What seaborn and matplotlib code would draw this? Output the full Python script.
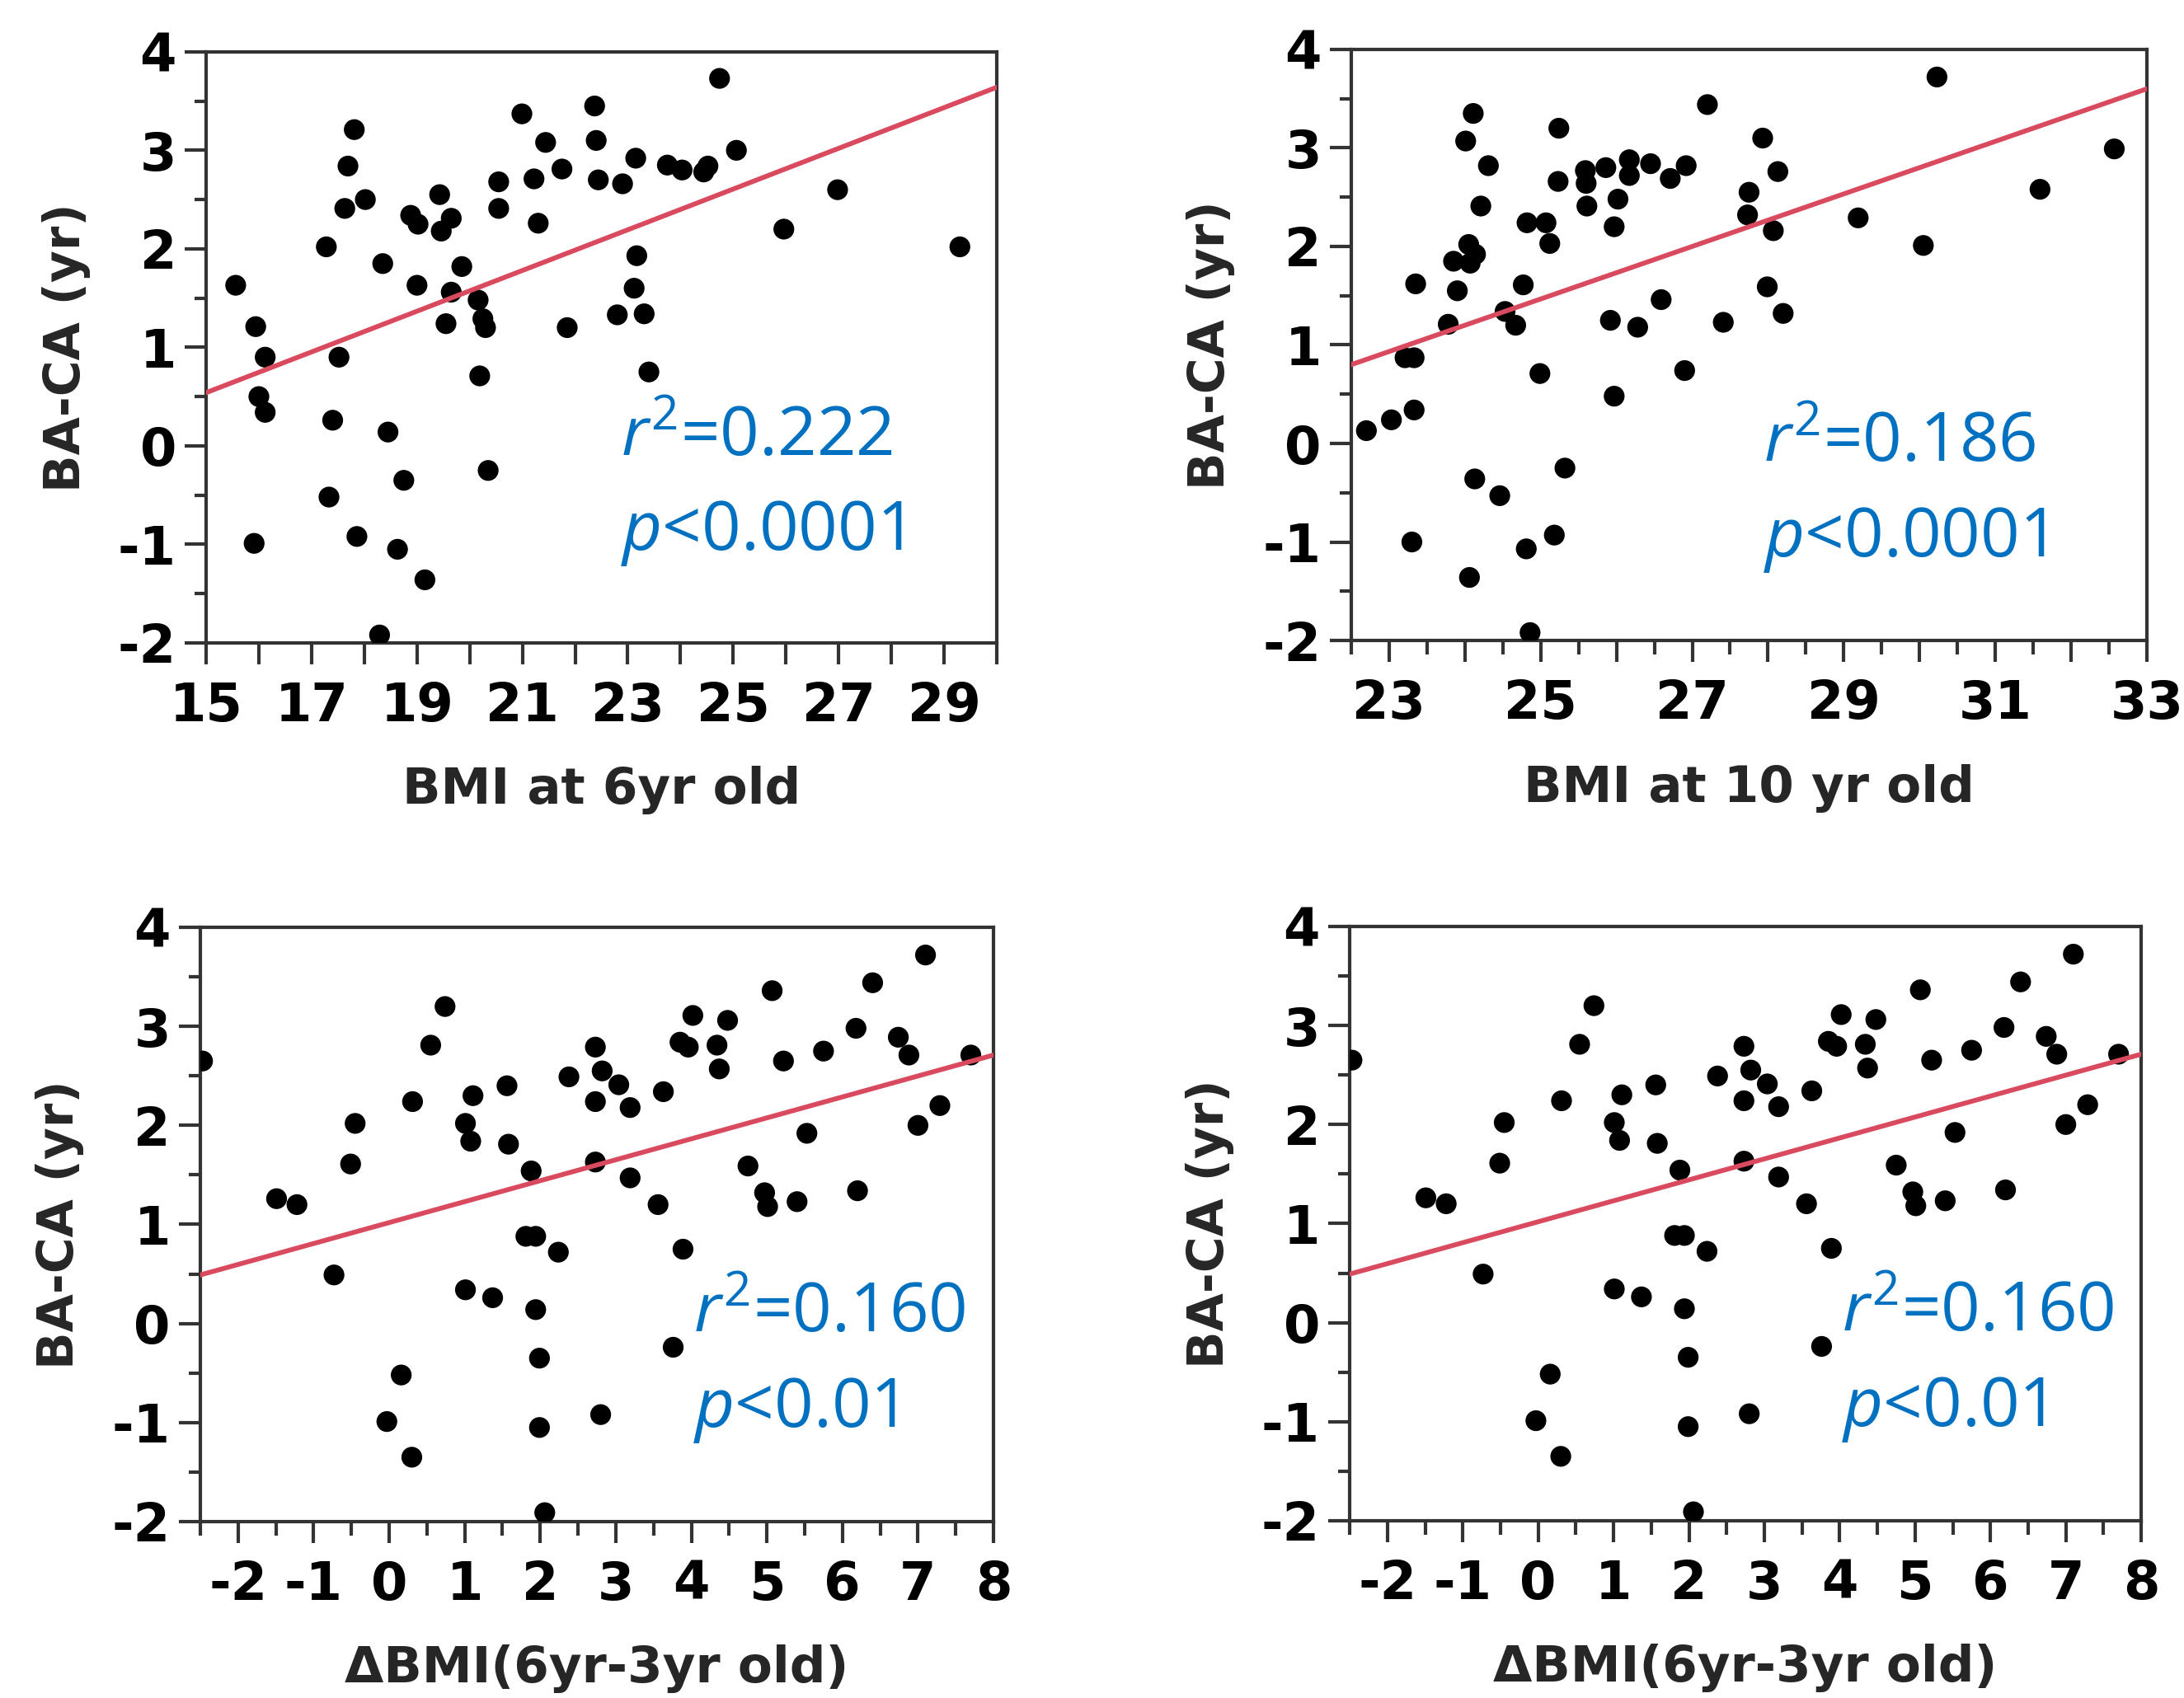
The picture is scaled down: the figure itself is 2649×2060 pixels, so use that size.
import matplotlib
matplotlib.use("Agg")
import matplotlib.pyplot as plt
import seaborn as sns
import pandas as pd

# ---------------- data ----------------
# Panel 1: BMI at 6 yr old vs BA-CA
bmi6_x = [15.56, 15.94, 16.12, 16.00, 16.12, 15.91, 17.28, 17.52, 17.40, 17.33,
          17.69, 17.81, 17.63, 18.02, 17.86, 18.35, 18.45, 18.29, 18.75, 18.63,
          19.15, 18.88, 19.02, 19.00, 19.43, 19.46, 19.65, 19.85, 19.65, 19.55,
          20.16, 20.25, 20.30, 20.19, 20.35, 20.55, 20.55, 20.99, 21.22, 21.44,
          21.30, 21.75, 21.85, 22.37, 22.40, 22.44, 22.90, 22.80, 23.15, 23.17,
          23.12, 23.31, 23.40, 23.75, 24.03, 24.44, 24.52, 24.74, 25.06, 25.96,
          26.98, 29.30]
bmi6_y = [1.63, 1.21, 0.90, 0.50, 0.34, -0.99, 2.02, 0.90, 0.26, -0.52,
          2.84, 3.21, 2.41, 2.50, -0.92, 1.85, 0.14, -1.92, -0.35, -1.05,
          -1.36, 2.34, 2.25, 1.63, 2.55, 2.18, 2.31, 1.82, 1.56, 1.24,
          1.48, 1.29, 1.20, 0.71, -0.25, 2.68, 2.41, 3.37, 2.71, 3.08,
          2.26, 2.81, 1.20, 3.45, 3.10, 2.70, 2.66, 1.33, 2.92, 1.93,
          1.60, 1.34, 0.75, 2.85, 2.80, 2.78, 2.84, 3.73, 3.00, 2.20,
          2.60, 2.02]
bmi6_fit_x = [15.0, 30.0]
bmi6_fit_y = [0.54, 3.64]

# Panel 2: BMI at 10 yr old vs BA-CA
bmi10_x = [22.70, 23.03, 23.33, 23.21, 23.33, 23.35, 23.30, 23.78, 23.85, 23.90,
           24.01, 24.11, 24.31, 24.21, 24.05, 24.07, 24.14, 24.13, 24.46, 24.06,
           24.53, 24.67, 24.77, 24.82, 25.07, 25.12, 24.99, 24.81, 24.86, 25.18,
           25.32, 25.24, 25.23, 25.59, 25.60, 25.61, 25.86, 26.02, 25.97, 25.92,
           25.97, 26.17, 26.17, 26.45, 26.71, 26.92, 26.28, 26.59, 26.90, 27.20,
           27.41, 27.93, 27.75, 27.73, 28.13, 28.07, 27.99, 28.20, 29.19, 30.05,
           30.23, 31.59, 32.57]
bmi10_y = [0.13, 0.24, 0.34, 0.87, 0.87, 1.62, -1.00, 1.21, 1.85, 1.55,
           3.07, 3.35, 2.82, 2.41, 2.02, 1.83, 1.92, -0.36, -0.53, -1.36,
           1.34, 1.20, 1.61, 2.24, 2.24, 2.03, 0.71, -1.07, -1.92, -0.93,
           -0.25, 3.20, 2.66, 2.77, 2.64, 2.41, 2.80, 2.48, 2.20, 1.25,
           0.48, 2.88, 2.72, 2.84, 2.69, 2.82, 1.18, 1.46, 0.74, 3.44,
           1.23, 3.10, 2.55, 2.32, 2.76, 2.16, 1.59, 1.32, 2.29, 2.01,
           3.72, 2.58, 2.99]
bmi10_fit_x = [22.5, 33.0]
bmi10_fit_y = [0.80, 3.60]

# Panels 3 and 4: delta BMI (6yr-3yr old) vs BA-CA
dbmi_x = [-2.47, -1.49, -1.22, -0.73, -0.51, -0.45, -0.03, 0.16, 0.30, 0.31,
          0.55, 0.74, 1.01, 1.01, 1.08, 1.11, 1.37, 1.56, 1.58, 1.88,
          1.81, 1.94, 1.94, 1.99, 1.99, 2.06, 2.24, 2.38, 2.73, 2.73,
          2.73, 2.82, 3.04, 3.19, 3.19, 2.80, 3.56, 3.63, 3.76, 3.89,
          3.85, 3.96, 4.02, 4.34, 4.37, 4.48, 4.75, 4.97, 5.01, 5.07,
          5.22, 5.40, 5.53, 5.75, 6.18, 6.20, 6.40, 6.74, 6.88, 7.00,
          7.10, 7.29, 7.70]
dbmi_y = [2.65, 1.26, 1.20, 0.49, 1.61, 2.02, -0.99, -0.52, -1.35, 2.24,
          2.81, 3.20, 0.34, 2.02, 1.84, 2.30, 0.26, 2.40, 1.81, 1.54,
          0.88, 0.88, 0.14, -0.35, -1.05, -1.91, 0.72, 2.49, 2.79, 2.24,
          1.63, 2.55, 2.41, 2.18, 1.47, -0.92, 1.20, 2.34, -0.24, 0.75,
          2.84, 2.79, 3.11, 2.81, 2.57, 3.06, 1.59, 1.32, 1.18, 3.36,
          2.65, 1.23, 1.92, 2.75, 2.98, 1.34, 3.44, 2.89, 2.71, 2.00,
          3.72, 2.20, 2.71]
dbmi_fit_x = [-2.5, 8.0]
dbmi_fit_y = [0.49, 2.71]

y_ticks = [-2, -1, 0, 1, 2, 3, 4]
y_ticklabels = ["-2", "-1", "0", "1", "2", "3", "4"]
y_minor = [-1.5, -0.5, 0.5, 1.5, 2.5, 3.5]

x1_ticks = list(range(15, 31))
x1_ticklabels = ["15", "", "17", "", "19", "", "21", "", "23", "", "25", "", "27", "", "29", ""]
x2_ticks = list(range(23, 34))
x2_ticklabels = ["23", "", "25", "", "27", "", "29", "", "31", "", "33"]
x2_minor = [22.5, 23.5, 24.5, 25.5, 26.5, 27.5, 28.5, 29.5, 30.5, 31.5, 32.5]
x3_ticks = list(range(-2, 9))
x3_ticklabels = ["-2", "-1", "0", "1", "2", "3", "4", "5", "6", "7", "8"]
x3_minor = [-2.5, -1.5, -0.5, 0.5, 1.5, 2.5, 3.5, 4.5, 5.5, 6.5, 7.5]

y_label = "BA-CA (yr)"
x_labels = ["BMI at 6yr old", "BMI at 10 yr old", "\u0394BMI(6yr-3yr old)", "\u0394BMI(6yr-3yr old)"]
r2_texts = ["0.222", "0.186", "0.160", "0.160"]
p_texts = ["0.0001", "0.0001", "0.01", "0.01"]

# ---------------- style ----------------
sns.set_style("white")
plt.rcParams["font.family"] = ["DejaVu Sans"]
plt.rcParams["axes.unicode_minus"] = False
plt.rcParams["mathtext.fontset"] = "custom"
plt.rcParams["mathtext.rm"] = "Open Sans"
plt.rcParams["mathtext.it"] = "Open Sans:italic"

SPINE = "#333333"
RED = "#d94a5e"
BLUE = "#0070C0"

fig = plt.figure(figsize=(26.49, 20.60), dpi=100)

panels = [
    dict(rect=[0.0944, 0.6214, 0.3620, 0.3481], x=bmi6_x, y=bmi6_y, fx=bmi6_fit_x, fy=bmi6_fit_y,
         xlim=(15, 30), xt=x1_ticks, xtl=x1_ticklabels, xm=[], txt=(0.5245, 0.3166, 0.1576)),
    dict(rect=[0.6187, 0.6228, 0.3643, 0.3481], x=bmi10_x, y=bmi10_y, fx=bmi10_fit_x, fy=bmi10_fit_y,
         xlim=(22.5, 33), xt=x2_ticks, xtl=x2_ticklabels, xm=x2_minor, txt=(0.518, 0.303, 0.142)),
    dict(rect=[0.0917, 0.1039, 0.3632, 0.3500], x=dbmi_x, y=dbmi_y, fx=dbmi_fit_x, fy=dbmi_fit_y,
         xlim=(-2.5, 8), xt=x3_ticks, xtl=x3_ticklabels, xm=x3_minor, txt=(0.622, 0.320, 0.159)),
    dict(rect=[0.6180, 0.1044, 0.3624, 0.3500], x=dbmi_x, y=dbmi_y, fx=dbmi_fit_x, fy=dbmi_fit_y,
         xlim=(-2.5, 8), xt=x3_ticks, xtl=x3_ticklabels, xm=x3_minor, txt=(0.622, 0.320, 0.159)),
]

for i, p in enumerate(panels):
    ax = fig.add_axes(p["rect"])
    df = pd.DataFrame({"x": p["x"], "y": p["y"]})
    fit = pd.DataFrame({"x": p["fx"], "y": p["fy"]})
    sns.scatterplot(data=df, x="x", y="y", ax=ax, s=330, color="black",
                    edgecolor="none", linewidth=0, zorder=3)
    sns.lineplot(data=fit, x="x", y="y", ax=ax, color=RED, linewidth=4.2, zorder=4)
    ax.set_xlim(*p["xlim"])
    ax.set_ylim(-2, 4)

    ax.set_xticks(p["xt"])
    ax.set_xticklabels(p["xtl"])
    ax.set_xticks(p["xm"], minor=True)
    ax.set_yticks(y_ticks)
    ax.set_yticklabels(y_ticklabels)
    ax.set_yticks(y_minor, minor=True)

    for sp in ax.spines.values():
        sp.set_linewidth(3)
        sp.set_color(SPINE)
        sp.set_visible(True)

    ax.tick_params(axis="both", which="major", direction="out", length=19, width=3,
                   color=SPINE, labelsize=46, labelcolor="black")
    ax.tick_params(axis="both", which="minor", direction="out", length=10, width=3,
                   color=SPINE)
    ax.tick_params(axis="x", which="minor", length=12)
    ax.tick_params(axis="x", which="major", pad=14)
    ax.tick_params(axis="y", which="major", pad=7)
    ax.tick_params(left=True, bottom=True, top=False, right=False)
    ax.tick_params(which="minor", left=True, bottom=True, top=False, right=False)
    for lab in ax.get_xticklabels() + ax.get_yticklabels():
        lab.set_fontweight("bold")

    ax.set_ylabel(y_label, fontsize=43, fontweight="bold", labelpad=24)
    ax.set_xlabel(x_labels[i], fontsize=44, fontweight="bold", labelpad=30)

    tx, ty1, ty2 = p["txt"]
    ax.text(tx, ty1, r"$\mathit{r}^{\mathrm{2}}$=" + r2_texts[i], transform=ax.transAxes,
            fontsize=60, color=BLUE, family="Open Sans", va="baseline", ha="left", zorder=5)
    ax.text(tx, ty2, r"$\mathit{p}$<" + p_texts[i], transform=ax.transAxes,
            fontsize=60, color=BLUE, family="Open Sans", va="baseline", ha="left", zorder=5)

fig.savefig("out.png", dpi=100)
